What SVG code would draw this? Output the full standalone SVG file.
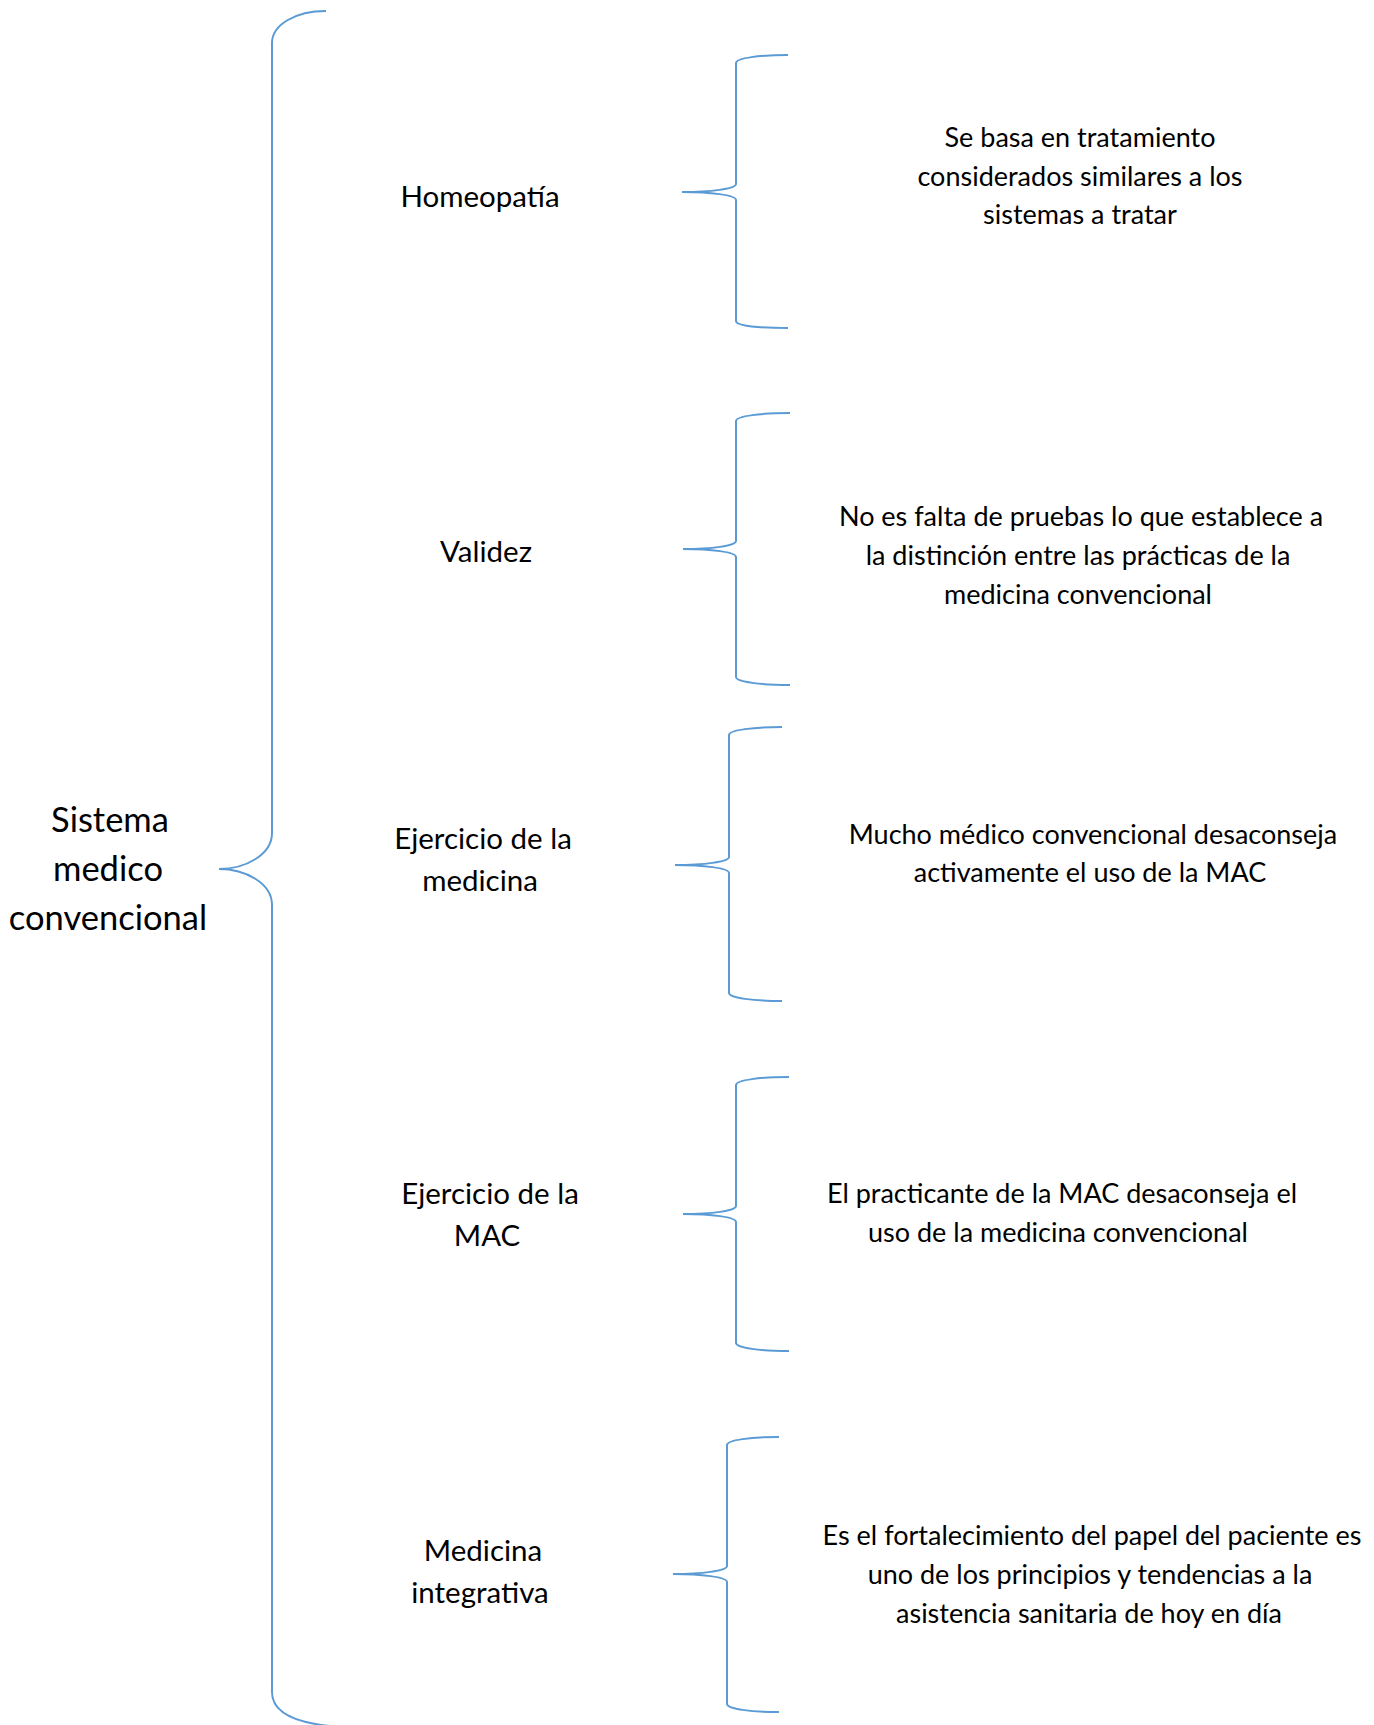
<svg xmlns="http://www.w3.org/2000/svg" width="1374" height="1725" viewBox="0 0 1374 1725">
<style>
.br{fill:none;stroke:#5B9BD5;stroke-width:2}
text{font-family:Lato,"Open Sans",sans-serif;fill:#000;text-anchor:middle}
.big{font-size:34.5px}
.lbl{font-size:29.5px}
.desc{font-size:27px}
</style>
<rect width="1374" height="1725" fill="#fff"/>
<g id="connectors">
<path class="br" d="M326,11 C295,11 272,25 272,43 L272,833 C272,855 245,869 219,869 C245,869 272,883 272,905 L272,1692 C272,1710 290,1722 330,1726"/>
<path class="br" d="M788,55 C760,55 736,58 736,63 L736,184 C736,189 710,192 682,192 C710,192 736,195 736,200 L736,321 C736,326 760,328 788,328"/>
<path class="br" d="M790,413 C762,413 736,416 736,421 L736,541 C736,546 711,549 683,549 C711,549 736,552 736,557 L736,677 C736,682 762,685 790,685"/>
<path class="br" d="M782,727 C754,727 729,730 729,735 L729,857 C729,862 703,865 675,865 C703,865 729,868 729,873 L729,993 C729,998 754,1001 782,1001"/>
<path class="br" d="M789,1077 C761,1077 736,1080 736,1085 L736,1206 C736,1211 711,1214 683,1214 C711,1214 736,1217 736,1222 L736,1343 C736,1348 761,1351 789,1351"/>
<path class="br" d="M779,1437 C751,1437 727,1440 727,1445 L727,1566 C727,1571 701,1574 673,1574 C701,1574 727,1577 727,1582 L727,1704 C727,1709 751,1712 779,1712"/>
</g>
<g id="root">
<text class="big" x="110" y="831.5">Sistema</text>
<text class="big" x="108" y="880.5">medico</text>
<text class="big" x="108" y="929.5">convencional</text>
</g>
<g id="homeopatia">
<text class="lbl" x="480" y="206.5">Homeopatía</text>
</g>
<g id="homeopatia-desc">
<text class="desc" x="1080" y="146.5">Se basa en tratamiento</text>
<text class="desc" x="1080" y="185.5">considerados similares a los</text>
<text class="desc" x="1080" y="223.5">sistemas a tratar</text>
</g>
<g id="validez">
<text class="lbl" x="486" y="561.5">Validez</text>
</g>
<g id="validez-desc">
<text class="desc" x="1081" y="525.5">No es falta de pruebas lo que establece a</text>
<text class="desc" x="1078" y="564.5">la distinción entre las prácticas de la</text>
<text class="desc" x="1078" y="603.5">medicina convencional</text>
</g>
<g id="ejercicio-medicina">
<text class="lbl" x="483" y="848.5">Ejercicio de la</text>
<text class="lbl" x="480" y="890.5">medicina</text>
</g>
<g id="ejercicio-medicina-desc">
<text class="desc" x="1093" y="843.5">Mucho médico convencional desaconseja</text>
<text class="desc" x="1090" y="881.5">activamente el uso de la MAC</text>
</g>
<g id="ejercicio-mac">
<text class="lbl" x="490" y="1203.5">Ejercicio de la</text>
<text class="lbl" x="487" y="1245.5">MAC</text>
</g>
<g id="ejercicio-mac-desc">
<text class="desc" x="1062" y="1202.5">El practicante de la MAC desaconseja el</text>
<text class="desc" x="1058" y="1241.5">uso de la medicina convencional</text>
</g>
<g id="medicina-integrativa">
<text class="lbl" x="483" y="1560.5">Medicina</text>
<text class="lbl" x="480" y="1602.5">integrativa</text>
</g>
<g id="medicina-integrativa-desc">
<text class="desc" x="1092" y="1544.5">Es el fortalecimiento del papel del paciente es</text>
<text class="desc" x="1090" y="1583.5">uno de los principios y tendencias a la</text>
<text class="desc" x="1089" y="1622.5">asistencia sanitaria de hoy en día</text>
</g>
</svg>
